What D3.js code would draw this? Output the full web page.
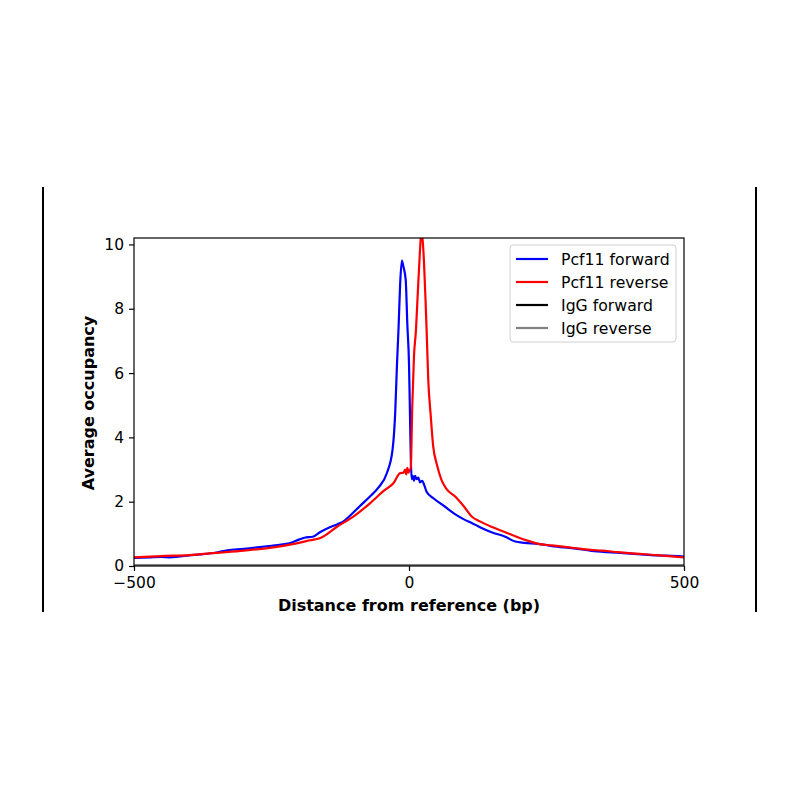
<!DOCTYPE html>
<html lang="en">
<head>
    <meta charset="UTF-8">
    <title>Average occupancy</title>
    <script src="https://d3js.org/d3.v7.min.js"></script>
    <style>
        body {
            margin: 0;
            background: #fff;
        }
        svg {
            font-family: 'DejaVu Sans', sans-serif;
        }
        .axis-label {
            font-size: 16px;
            font-weight: bold;
        }
        .legend text {
            font-size: 15.7px;
        }
    </style>
</head>
<body>
    <svg width="800" height="800"></svg>

    <script>
        // values (bp, average occupancy)
        const fwdPos = [-500, -470, -450, -435, -420, -400, -380, -350, -330, -300, -280, -250, -230, -216, -200, -190, -175, -162, -145, -130, -120, -105, -90, -71, -55, -40, -30, -25, -22, -19, -16, -13, -10, -6, -3, 0, 2, 3.5, 5, 7, 9, 11, 14, 17, 20, 24, 28, 32, 45, 65, 85, 100, 114, 130, 150, 175, 193, 210, 235, 260, 300, 332, 360, 390, 416, 450, 470, 500];
        const fwdVal = [0.25, 0.27, 0.28, 0.27, 0.29, 0.33, 0.36, 0.42, 0.49, 0.53, 0.57, 0.63, 0.67, 0.71, 0.82, 0.88, 0.91, 1.05, 1.2, 1.3, 1.38, 1.6, 1.85, 2.16, 2.45, 2.9, 3.6, 4.8, 6.2, 7.4, 8.8, 9.5, 9.3, 8.9, 7.5, 6.3, 4.5, 3.2, 2.7, 2.8, 2.65, 2.8, 2.7, 2.75, 2.6, 2.65, 2.5, 2.31, 2.1, 1.85, 1.6, 1.45, 1.34, 1.2, 1.05, 0.91, 0.76, 0.72, 0.69, 0.62, 0.55, 0.47, 0.43, 0.4, 0.37, 0.33, 0.32, 0.29];

        const revPos = [-500, -450, -400, -350, -300, -250, -200, -180, -160, -131, -100, -71, -45, -28, -16, -10, -7, -5, -3, -1, 1, 3, 6, 9, 12.7, 16, 18.8, 21, 23, 25, 27.3, 30, 32, 35, 39.4, 44, 50, 59, 68, 84, 100, 114, 130, 150, 175, 200, 217, 235, 260, 300, 330, 350, 380, 400, 450, 500];
        const revVal = [0.27, 0.31, 0.34, 0.41, 0.48, 0.57, 0.72, 0.8, 0.88, 1.22, 1.55, 1.95, 2.35, 2.58, 2.89, 2.9, 3.0, 2.85, 3.05, 2.9, 3.0, 3.0, 5.0, 6.5, 7.35, 8.5, 9.43, 10.1, 10.4, 10.1, 9.43, 8.3, 7.35, 5.8, 4.7, 3.72, 3.2, 2.68, 2.4, 2.16, 1.85, 1.54, 1.38, 1.22, 1.05, 0.88, 0.78, 0.69, 0.64, 0.56, 0.5, 0.48, 0.43, 0.4, 0.34, 0.27];

        const iggPos = [-500, -400, -300, -200, -100, 0, 100, 200, 300, 400, 500];
        const iggFwdVal = [0.02, 0.02, 0.02, 0.02, 0.02, 0.02, 0.02, 0.02, 0.02, 0.02, 0.02];
        const iggRevVal = [0.03, 0.03, 0.03, 0.03, 0.03, 0.03, 0.03, 0.03, 0.03, 0.03, 0.03];

        const seriesNames = ['Pcf11 forward', 'Pcf11 reverse', 'IgG forward', 'IgG reverse'];
        const seriesColors = ['#0000ff', '#ff0000', '#000000', '#808080'];
        const xTicks = [-500, 0, 500];
        const yTicks = [0, 2, 4, 6, 8, 10];

        const series = [
            { name: seriesNames[0], color: seriesColors[0], pos: fwdPos, val: fwdVal },
            { name: seriesNames[1], color: seriesColors[1], pos: revPos, val: revVal },
            { name: seriesNames[2], color: seriesColors[2], pos: iggPos, val: iggFwdVal },
            { name: seriesNames[3], color: seriesColors[3], pos: iggPos, val: iggRevVal }
        ];

        const svg = d3.select('svg');
        const plotL = 134, plotR = 684, plotT = 238, plotB = 566;

        const x = d3.scaleLinear().domain([-500, 500]).range([plotL, plotR]);
        const y = d3.scaleLinear().domain([0, 10.2]).range([plotB, plotT]);

        // figure edge lines
        svg.selectAll('.edge')
            .data([43, 756])
            .enter().append('line')
            .attr('x1', d => d).attr('x2', d => d)
            .attr('y1', 187).attr('y2', 612)
            .attr('stroke', '#000')
            .attr('stroke-width', 2);

        svg.append('clipPath').attr('id', 'plot-clip')
            .append('rect')
            .attr('x', plotL).attr('y', plotT)
            .attr('width', plotR - plotL).attr('height', plotB - plotT);

        const line = d3.line()
            .curve(d3.curveMonotoneX)
            .x(d => x(d[0]))
            .y(d => y(d[1]));

        svg.append('g')
            .attr('clip-path', 'url(#plot-clip)')
            .selectAll('path')
            .data(series)
            .enter().append('path')
            .attr('d', s => line(s.pos.map((p, i) => [p, s.val[i]])))
            .attr('fill', 'none')
            .attr('stroke', s => s.color)
            .attr('stroke-width', 2.2)
            .attr('stroke-linejoin', 'round');

        const xAxis = svg.append('g')
            .attr('transform', `translate(0,${plotB})`)
            .call(d3.axisBottom(x).tickValues(xTicks).tickSize(5).tickPadding(6)
                .tickFormat(d => d3.format('d')(d).replace('-', '\u2212')));

        const yAxis = svg.append('g')
            .attr('transform', `translate(${plotL},0)`)
            .call(d3.axisLeft(y).tickValues(yTicks).tickSize(5).tickPadding(5));

        [xAxis, yAxis].forEach(a => {
            a.attr('font-size', 15.5).attr('font-family', 'DejaVu Sans, sans-serif');
            a.select('.domain').remove();
            a.selectAll('.tick line').attr('stroke', '#000').attr('stroke-width', 1.2);
            a.selectAll('.tick text').attr('fill', '#000');
        });

        // frame
        svg.append('rect')
            .attr('x', plotL).attr('y', plotT)
            .attr('width', plotR - plotL).attr('height', plotB - plotT)
            .attr('fill', 'none')
            .attr('stroke', '#000')
            .attr('stroke-width', 1.2);

        svg.append('text')
            .attr('class', 'axis-label')
            .attr('x', (plotL + plotR) / 2)
            .attr('y', 611)
            .attr('text-anchor', 'middle')
            .text('Distance from reference (bp)');

        svg.append('text')
            .attr('class', 'axis-label')
            .attr('transform', `translate(94,${(plotT + plotB) / 2 + 1}) rotate(-90)`)
            .attr('text-anchor', 'middle')
            .text('Average occupancy');

        // legend
        const legend = svg.append('g').attr('class', 'legend');
        legend.append('rect')
            .attr('x', 510).attr('y', 245)
            .attr('width', 166).attr('height', 97)
            .attr('rx', 3)
            .attr('fill', '#fff')
            .attr('fill-opacity', 0.8)
            .attr('stroke', '#d0d0d0');

        const item = legend.selectAll('.item')
            .data(series)
            .enter().append('g')
            .attr('transform', (d, i) => `translate(0,${259 + i * 23})`);

        item.append('line')
            .attr('x1', 516).attr('x2', 548)
            .attr('stroke', d => d.color)
            .attr('stroke-width', 2.2);

        item.append('text')
            .attr('x', 561)
            .attr('dy', '0.35em')
            .text(d => d.name);
    </script>
</body>
</html>
